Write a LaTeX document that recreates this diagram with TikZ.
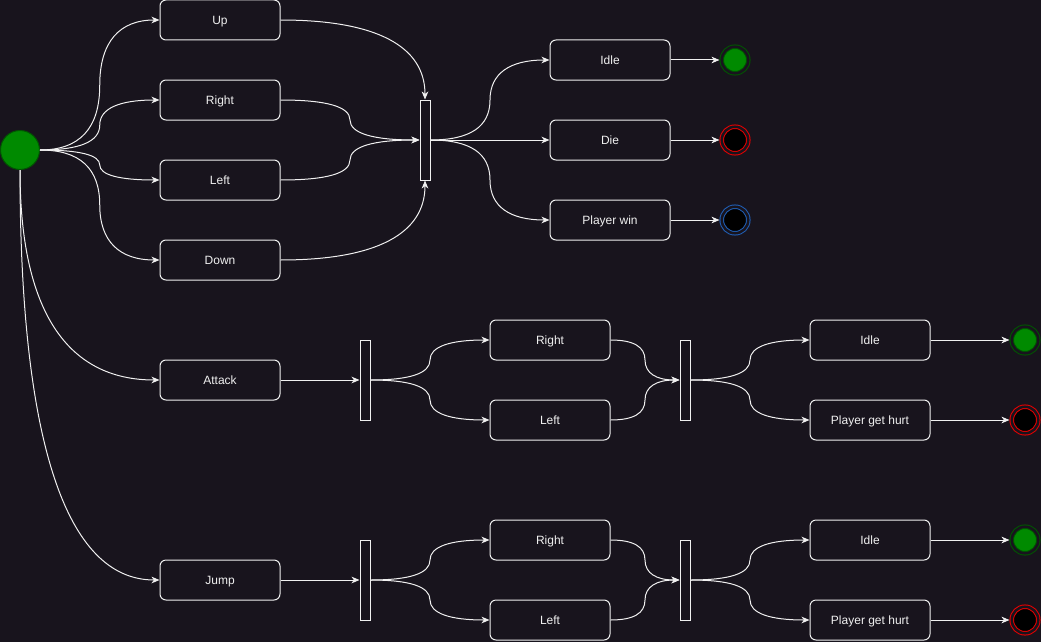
\documentclass[tikz,border=0pt]{standalone}
\usepackage{fontspec}
\setmainfont{Liberation Sans}
\usepackage{tikz}
\usetikzlibrary{arrows.meta,calc}
\definecolor{bgcol}{RGB}{24,20,29}
\definecolor{fgcol}{RGB}{240,240,240}
\definecolor{okcol}{RGB}{0,138,0}
\definecolor{okline}{RGB}{0,87,0}
\definecolor{failcol}{RGB}{235,0,0}
\definecolor{wincol}{RGB}{32,96,184}

\begin{document}
\begin{tikzpicture}[x=0.75pt, y=-0.75pt,
  box/.style={rectangle, draw=fgcol, fill=bgcol, rounded corners=4.5pt, line width=0.75pt,
              text=fgcol, font=\fontsize{9}{11}\selectfont, minimum width=90pt, minimum height=30pt,
              inner sep=0pt, text height=6.5pt, text depth=0pt},
  bar/.style={rectangle, draw=fgcol, fill=bgcol, line width=0.75pt, minimum width=7.5pt,
              minimum height=60pt, inner sep=0pt},
  init/.style={circle, draw=okline, fill=okcol, line width=0.75pt, minimum size=29.25pt, inner sep=0pt},
  fin/.style={circle, draw=#1, double=bgcol, double distance=1.9pt, line width=0.75pt,
              minimum size=19.9pt, inner sep=0pt, outer sep=1.7pt},
  ar/.style={-{Stealth[length=6pt, width=5pt, inset=1.8pt]}, draw=fgcol, line width=0.75pt},
  hv/.style={to path={let \p1=(\tikztostart), \p2=(\tikztotarget) in
              .. controls ({\x1+(\x2-\x1)/3},\y1) and ({(\x1+\x2)/2},{(5*(\y1)+\y2)/6})
              .. ({(\x1+\x2)/2},{(\y1+\y2)/2})
              .. controls ({(\x1+\x2)/2},{(\y1+5*(\y2))/6}) and ({\x2-(\x2-\x1)/3},\y2)
              .. (\tikztotarget)}},
  hc/.style={to path={.. controls ($(\tikztostart)!2/3!(\tikztostart -| \tikztotarget)$)
              and ($(\tikztotarget)!2/3!(\tikztostart -| \tikztotarget)$) .. (\tikztotarget)}},
  vc/.style={to path={.. controls ($(\tikztostart)!2/3!(\tikztostart |- \tikztotarget)$)
              and ($(\tikztotarget)!2/3!(\tikztostart |- \tikztotarget)$) .. (\tikztotarget)}}
]
\fill[bgcol] (0,0) rectangle (1041,642);
\useasboundingbox (0,0) rectangle (1041,642);

\node[init] (st)  at (20,150) {};
\node[box]  (up)  at (220,20)  {Up};
\node[box]  (rt)  at (220,100) {Right};
\node[box]  (lt)  at (220,180) {Left};
\node[box]  (dn)  at (220,260) {Down};
\node[box]  (atk) at (220,380) {Attack};
\node[box]  (jmp) at (220,580) {Jump};

\node[bar] (mv)   at (425,140) {};
\node[box] (idle) at (610,60)  {Idle};
\node[box] (die)  at (610,140) {Die};
\node[box] (win)  at (610,220) {Player win};
\node[fin=okline, fill=okcol]  (e1) at (735,60)  {};
\node[fin=failcol, fill=black] (e2) at (735,140) {};
\node[fin=wincol, fill=black]  (e3) at (735,220) {};

\node[bar] (af)   at (365,380) {};
\node[box] (atkr) at (550,340) {Right};
\node[box] (atkl) at (550,420) {Left};
\node[bar] (aj)   at (685,380) {};
\node[box] (atki) at (870,340) {Idle};
\node[box] (atkh) at (870,420) {Player get hurt};
\node[fin=okline, fill=okcol]  (e4) at (1025,340) {};
\node[fin=failcol, fill=black] (e5) at (1025,420) {};

\node[bar] (jf)   at (365,580) {};
\node[box] (jmpr) at (550,540) {Right};
\node[box] (jmpl) at (550,620) {Left};
\node[bar] (jj)   at (685,580) {};
\node[box] (jmpi) at (870,540) {Idle};
\node[box] (jmph) at (870,620) {Player get hurt};
\node[fin=okline, fill=okcol]  (e6) at (1025,540) {};
\node[fin=failcol, fill=black] (e7) at (1025,620) {};

\draw[ar] (st.east)  to[hv] (up.west);
\draw[ar] (st.east)  to[hv] (rt.west);
\draw[ar] (st.east)  to[hv] (lt.west);
\draw[ar] (st.east)  to[hv] (dn.west);
\draw[ar] (st.south) to[vc] (atk.west);
\draw[ar] (st.south) to[vc] (jmp.west);

\draw[ar] (up.east) to[hc] (mv.north);
\draw[ar] (rt.east) to[hv] (mv.west);
\draw[ar] (lt.east) to[hv] (mv.west);
\draw[ar] (dn.east) to[hc] (mv.south);
\draw[ar] (mv.east) to[hv] (idle.west);
\draw[ar] (mv.east) --      (die.west);
\draw[ar] (mv.east) to[hv] (win.west);
\draw[ar] (idle.east) -- (e1.west);
\draw[ar] (die.east)  -- (e2.west);
\draw[ar] (win.east)  -- (e3.west);

\draw[ar] (atk.east)  --      (af.west);
\draw[ar] (af.east)   to[hv] (atkr.west);
\draw[ar] (af.east)   to[hv] (atkl.west);
\draw[ar] (atkr.east) to[hv] (aj.west);
\draw[ar] (atkl.east) to[hv] (aj.west);
\draw[ar] (aj.east)   to[hv] (atki.west);
\draw[ar] (aj.east)   to[hv] (atkh.west);
\draw[ar] (atki.east) -- (e4.west);
\draw[ar] (atkh.east) -- (e5.west);

\draw[ar] (jmp.east)  --      (jf.west);
\draw[ar] (jf.east)   to[hv] (jmpr.west);
\draw[ar] (jf.east)   to[hv] (jmpl.west);
\draw[ar] (jmpr.east) to[hv] (jj.west);
\draw[ar] (jmpl.east) to[hv] (jj.west);
\draw[ar] (jj.east)   to[hv] (jmpi.west);
\draw[ar] (jj.east)   to[hv] (jmph.west);
\draw[ar] (jmpi.east) -- (e6.west);
\draw[ar] (jmph.east) -- (e7.west);
\end{tikzpicture}
\end{document}
